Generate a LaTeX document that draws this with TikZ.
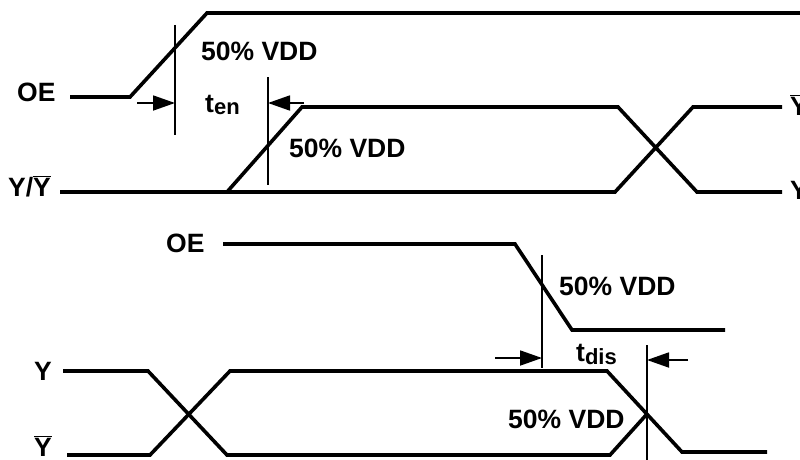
\documentclass[tikz,border=0pt]{standalone}
\usepackage{fontspec}
\setmainfont{Liberation Sans}
\usetikzlibrary{arrows.meta}
\newcommand\ovY{$\overline{\mbox{Y}}$}
\begin{document}
\begin{tikzpicture}[x=1pt,y=-1pt,
  sig/.style={line width=3.6pt, line join=miter},
  mk/.style={line width=1.7pt},
  dimarrow/.style={line width=1.8pt,-{Triangle[length=22pt,width=15pt]}},
  lbl/.style={font=\fontsize{26.5}{27}\selectfont\bfseries, inner sep=0pt, anchor=base west},
]
\useasboundingbox (0,0) rectangle (800,460);
% ---------- enable timing ----------
\node[lbl] (oe1) at (17,101) {OE};
\node[lbl] (yy1) at (8,196) {Y/\ovY};
\node[lbl] (yb1) at (790,115) {\ovY};
\node[lbl] (y1) at (790,199) {Y};
\draw[sig] (70,97) -- (130,97) -- (207,13) -- (800,13);
\draw[sig] (60,192) -- (615,192) -- (693,107) -- (782,107);
\draw[sig] (227,192) -- (302,107) -- (618,107) -- (697,192) -- (782,192);
\coordinate (m1t) at (175,25); \coordinate (m1b) at (175,135);
\coordinate (m2t) at (268,77); \coordinate (m2b) at (268,185);
\draw[mk] (m1t) -- (m1b);
\draw[mk] (m2t) -- (m2b);
\coordinate (a1s) at (137,103); \coordinate (a1e) at (175,103);
\coordinate (a2s) at (304,103); \coordinate (a2e) at (268,103);
\draw[dimarrow] (a1s) -- (a1e);
\draw[dimarrow] (a2s) -- (a2e);
\node[lbl] (v1) at (201,60) {50\% VDD};
\node[lbl] (v2) at (289,157) {50\% VDD};
\node[lbl] (ten) at (205,112) {t\raisebox{-2pt}{\fontsize{22}{22}\selectfont en}};
% ---------- disable timing ----------
\node[lbl] (oe2) at (166,252) {OE};
\node[lbl] (y2) at (34,380) {Y};
\node[lbl] (yb2) at (34,456) {\ovY};
\draw[sig] (223,244) -- (515,244) -- (572,330) -- (725,330);
\draw[sig] (63,371) -- (148,371) -- (227,455) -- (610,455) -- (647,414);
\draw[sig] (67,455) -- (150,455) -- (230,371) -- (607,371) -- (682,452) -- (767,452);
\coordinate (m3t) at (542,255); \coordinate (m3b) at (542,368);
\coordinate (m4t) at (647,345); \coordinate (m4b) at (647,460);
\draw[mk] (m3t) -- (m3b);
\draw[mk] (m4t) -- (m4b);
\coordinate (a3s) at (495,358); \coordinate (a3e) at (542,358);
\coordinate (a4s) at (688,360); \coordinate (a4e) at (647,360);
\draw[dimarrow] (a3s) -- (a3e);
\draw[dimarrow] (a4s) -- (a4e);
\node[lbl] (v3) at (559,295) {50\% VDD};
\node[lbl] (v4) at (508,428) {50\% VDD};
\node[lbl] (tdis) at (576,361) {t\raisebox{-3pt}{\fontsize{22}{22}\selectfont dis}};
\end{tikzpicture}
\end{document}
